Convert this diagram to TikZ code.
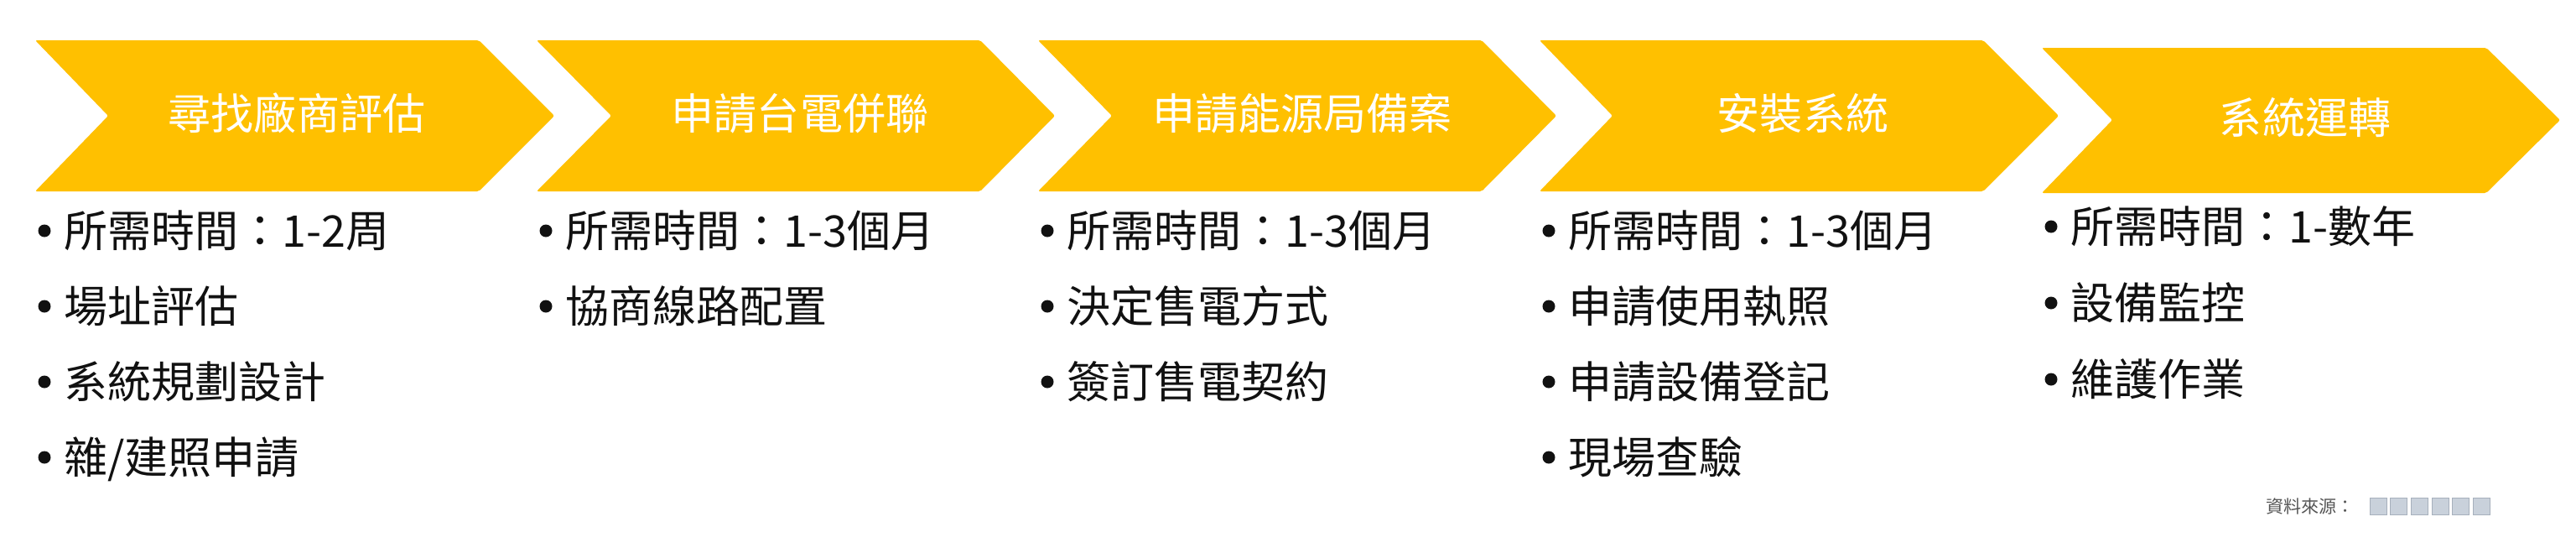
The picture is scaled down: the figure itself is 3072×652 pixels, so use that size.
\documentclass[tikz,border=0pt]{standalone}
\usepackage{fontspec}
\newfontfamily\cjk{Noto Sans CJK TC}
\definecolor{gold}{HTML}{FFC000}
\definecolor{inkk}{HTML}{111111}
\definecolor{srcgray}{HTML}{555555}
\definecolor{redact}{HTML}{C9D1DB}
\definecolor{redactline}{HTML}{A7B0BC}
\tikzset{
  chev/.style={fill=gold, draw=none, rounded corners=1.5pt},
  ttl/.style={font=\cjk\fontsize{36.3}{40}\selectfont, text=white, inner sep=0pt, text height=31.9pt, text depth=4.4pt},
  item/.style={font=\cjk\fontsize{37}{42}\selectfont, text=inkk, anchor=west, inner sep=0pt, text height=32.6pt, text depth=4.4pt},
  dot/.style={fill=inkk},
  src/.style={font=\cjk\fontsize{15}{18}\selectfont, text=srcgray, anchor=west, inner sep=0pt, text height=13.2pt, text depth=1.8pt},
  redbox/.style={fill=redact, draw=redactline, line width=0.4pt}
}
\newcommand{\bline}[4]{% name, x (text start), y, text
  \fill[dot] (#2-23,#3) circle (7.5);
  \node[item] (#1) at (#2,#3) {#4};
}
\begin{document}
\begin{tikzpicture}[x=0.25mm,y=-0.25mm]
\useasboundingbox (0,0) rectangle (3072,652);
\fill[white] (0,0) rectangle (3072,652);

% chevrons
\fill[chev] (42,48) -- (571,48) -- (661,138) -- (571,228) -- (42,228) -- (129,138) -- cycle;
\fill[chev] (640,48) -- (1169,48) -- (1258,138) -- (1169,228) -- (640,228) -- (729,138) -- cycle;
\fill[chev] (1238,48) -- (1767,48) -- (1856,138) -- (1767,228) -- (1238,228) -- (1326,138) -- cycle;
\fill[chev] (1836,48) -- (2365,48) -- (2455,138) -- (2365,228) -- (1836,228) -- (1923,138) -- cycle;
\fill[chev] (2435,57) -- (2965,57) -- (3053,143) -- (2965,230) -- (2435,230) -- (2519,143) -- cycle;

% titles
\node[ttl] (t1) at (354,135) {尋找廠商評估};
\node[ttl] (t2) at (954,135) {申請台電併聯};
\node[ttl] (t3) at (1553,135) {申請能源局備案};
\node[ttl] (t4) at (2150,135) {安裝系統};
\node[ttl] (t5) at (2749,140) {系統運轉};

% column 1
\bline{a1}{76}{275}{所需時間：1-2周}
\bline{a2}{76}{365}{場址評估}
\bline{a3}{76}{455}{系統規劃設計}
\bline{a4}{76}{545}{雜/建照申請}
% column 2
\bline{b1}{674}{275}{所需時間：1-3個月}
\bline{b2}{674}{365}{協商線路配置}
% column 3
\bline{c1}{1272}{275}{所需時間：1-3個月}
\bline{c2}{1272}{365}{決定售電方式}
\bline{c3}{1272}{455}{簽訂售電契約}
% column 4
\bline{d1}{1870}{275}{所需時間：1-3個月}
\bline{d2}{1870}{365}{申請使用執照}
\bline{d3}{1870}{455}{申請設備登記}
\bline{d4}{1870}{545}{現場查驗}
% column 5
\bline{e1}{2469}{270}{所需時間：1-數年}
\bline{e2}{2469}{361}{設備監控}
\bline{e3}{2469}{452}{維護作業}

% source credit
\node[src] (s) at (2702,603) {資料來源：};
\foreach \i in {0,...,5} {
  \filldraw[redbox] ({2826+\i*24.6},593) rectangle ++(20,20);
}
\end{tikzpicture}
\end{document}
